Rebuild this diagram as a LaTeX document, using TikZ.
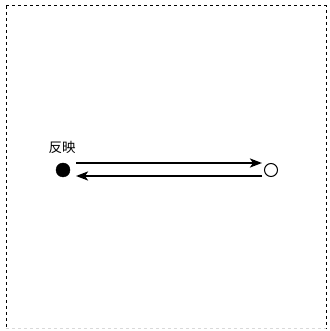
\documentclass[tikz,border=0pt]{standalone}
\usepackage{fontspec}
\newfontfamily\cjk{Noto Sans CJK JP}
\usetikzlibrary{arrows.meta}
\tikzset{
  frame/.style={draw=black, line width=1pt, dash pattern=on 3pt off 3pt},
  fulldot/.style={circle, fill=black, draw=black, inner sep=0pt, minimum size=14pt},
  opendot/.style={circle, fill=white, draw=black, line width=1pt, inner sep=0pt, minimum size=13pt},
  conn/.style={line width=2.3pt, -{Stealth[length=12pt,width=9pt,inset=3pt]}},
  lbl/.style={font=\cjk\fontsize{13.5pt}{15pt}\selectfont, inner sep=0pt}
}
\begin{document}
\begin{tikzpicture}[x=1pt,y=1pt]
\useasboundingbox (0,0) rectangle (329,331);
\draw[frame] (6,325) -- (6,2) ;
\draw[frame] (6,325) -- (326,325) -- (326,2);
\draw[frame, draw=black!15] (6,2) -- (326,2);
\node[fulldot] (a) at (63,161) {};
\node[opendot] (b) at (271,161) {};
\node[lbl] (l) at (62,184) {反映};
\draw[conn] ([xshift=13pt,yshift=7pt]a.center) -- ([xshift=-9pt,yshift=7pt]b.center);
\draw[conn] ([xshift=-9pt,yshift=-6pt]b.center) -- ([xshift=13pt,yshift=-6pt]a.center);
\end{tikzpicture}
\end{document}
